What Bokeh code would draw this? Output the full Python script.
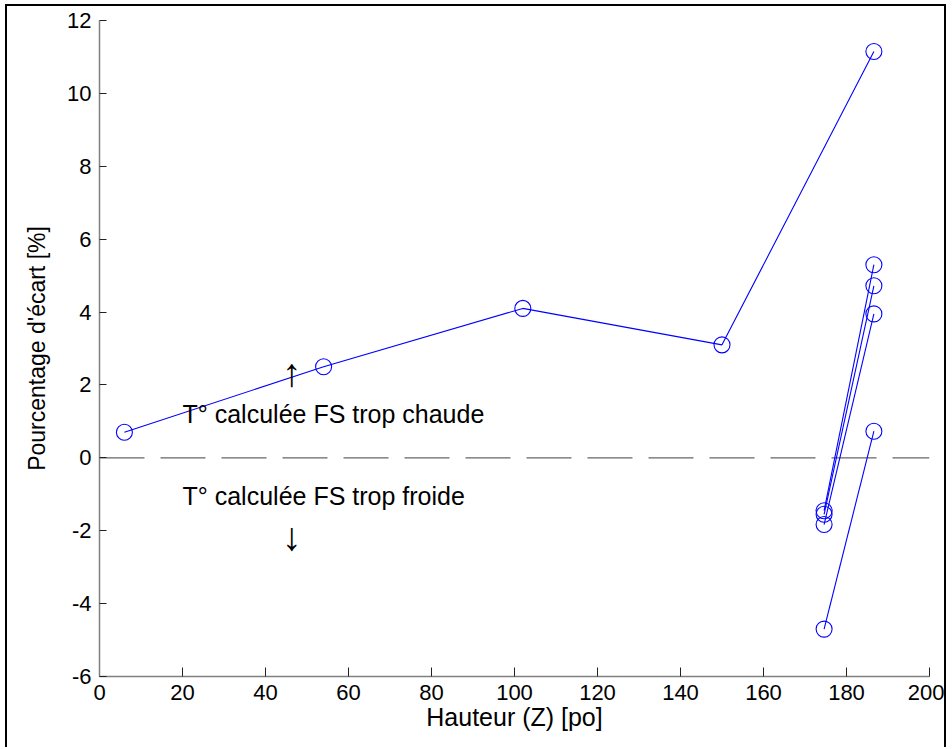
from bokeh.plotting import figure
from bokeh.models import Range1d, FixedTicker
from bokeh.core.properties import value
from bokeh.embed import file_html
from bokeh.resources import INLINE

# --- data ---
main_x = [6, 54, 102, 150, 186.6]
main_y = [0.7, 2.5, 4.1, 3.1, 11.15]

pair_x = [174.6, 186.6]
pair1_y = [-1.45, 5.3]
pair2_y = [-1.55, 4.72]
pair3_y = [-1.83, 3.95]
pair4_y = [-4.7, 0.73]

zero_x = [0, 200]
zero_y = [0, 0]

x_ticks = [0, 20, 40, 60, 80, 100, 120, 140, 160, 180, 200]
x_tick_labels = ["0", "20", "40", "60", "80", "100", "120", "140", "160", "180", "200"]
y_ticks = [-6, -4, -2, 0, 2, 4, 6, 8, 10, 12]
y_tick_labels = ["-6", "-4", "-2", "0", "2", "4", "6", "8", "10", "12"]

x_title = "Hauteur (Z) [po]"
y_title = "Pourcentage d'écart [%]"

ann_x = [20, 20]
ann_y = [1.2, -1.05]
ann_text = ["T° calculée FS trop chaude", "T° calculée FS trop froide"]
arrow_x = [46.3, 46.3]
arrow_y = [2.33, -2.15]
arrow_text = ["↑", "↓"]

FONT = "Liberation Sans"
BLUE = "#0000ff"

p = figure(width=941, height=743, output_backend="svg", toolbar_location=None,
           x_range=Range1d(0, 200), y_range=Range1d(-6, 12),
           min_border_left=92, min_border_right=19, min_border_top=14,
           min_border_bottom=73)
p.styles = {"border-top": "2px solid black", "border-left": "2px solid black",
            "border-right": "2px solid black",
            "margin-left": "5px", "margin-top": "4px"}
p.outline_line_color = None
p.grid.visible = False
p.background_fill_color = "white"
p.border_fill_color = "white"

for ax in (p.xaxis[0], p.yaxis[0]):
    ax.axis_line_color = "#808080"
    ax.axis_line_width = 1.5
    ax.major_tick_line_color = "#222222"
    ax.major_tick_out = 0
    ax.minor_tick_line_color = None
    ax.major_label_text_font = FONT
    ax.major_label_text_font_size = "22px"
    ax.major_label_text_color = "black"
    ax.axis_label_text_font = FONT
    ax.axis_label_text_font_style = "normal"
    ax.axis_label_text_color = "black"

p.xaxis.ticker = FixedTicker(ticks=x_ticks)
p.yaxis.ticker = FixedTicker(ticks=y_ticks)
p.xaxis.major_label_overrides = dict(zip(x_ticks, x_tick_labels))
p.yaxis.major_label_overrides = dict(zip(y_ticks, y_tick_labels))
p.xaxis.major_tick_in = 9
p.yaxis.major_tick_in = 7
p.xaxis.major_label_standoff = 8
p.yaxis.major_label_standoff = 8
p.xaxis.axis_label = x_title
p.yaxis.axis_label = y_title
p.xaxis.axis_label_text_font_size = "25px"
p.yaxis.axis_label_text_font_size = "23px"
p.xaxis.axis_label_standoff = 0
p.yaxis.axis_label_standoff = 14

p.line(zero_x, zero_y, line_color="#666666", line_width=1.3, line_dash="45 16")

for xs, ys in [(main_x, main_y), (pair_x, pair1_y), (pair_x, pair2_y),
               (pair_x, pair3_y), (pair_x, pair4_y)]:
    p.line(xs, ys, line_color=BLUE, line_width=1.1)
    p.scatter(xs, ys, marker="circle", size=16, fill_color=None,
              line_color=BLUE, line_width=1.1)

p.text(ann_x, ann_y, text=ann_text, text_font=value(FONT),
       text_font_size="25px", text_color="black",
       text_align="left", text_baseline="middle")
p.text(arrow_x, arrow_y, text=arrow_text, text_font=value(FONT),
       text_font_size="39px", text_color="black",
       text_align="center", text_baseline="middle")

open("out.html", "w").write(file_html(p, INLINE))
